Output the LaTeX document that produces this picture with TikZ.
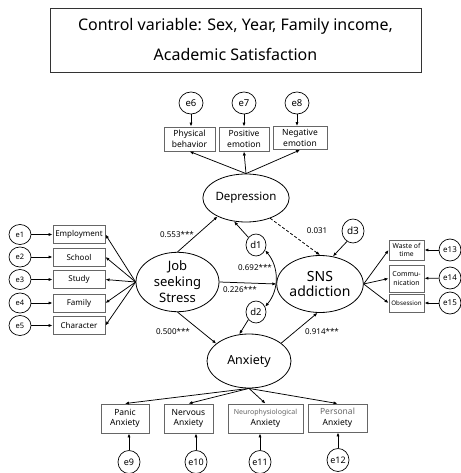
\documentclass[tikz,border=0pt]{standalone}
\usepackage{fontspec}
\setmainfont{Noto Sans}
\usetikzlibrary{shapes.geometric,arrows.meta,calc}
\begin{document}
\begin{tikzpicture}[x=1pt,y=-1pt,
  arr/.style={-{Latex[length=4pt,width=3.2pt]}, line width=0.75pt},
  box/.style={draw=black!60, line width=0.9pt, inner sep=0pt, align=center, font=\fontsize{8.5}{10.5}\selectfont},
  lat/.style={ellipse, draw, line width=0.8pt, inner sep=0pt, align=center},
  err/.style={ellipse, draw, line width=0.7pt, inner sep=0pt},
  coef/.style={inner sep=0pt, font=\fontsize{8}{9}\selectfont}
]
\useasboundingbox (0,0) rectangle (460,473);
% title
\node[draw=black!80, line width=0.9pt, minimum width=371, minimum height=64, inner sep=0pt, align=center,
  font=\fontsize{16}{30}\selectfont] (title) at (235.5,40) {Control variable: Sex, Year, Family income,\\Academic Satisfaction};
% latent variables
\node[lat, minimum width=84, minimum height=48, font=\fontsize{11.5}{13}\selectfont] (dep) at (246,198) {Depression};
\node[lat, minimum width=83, minimum height=55, font=\fontsize{13}{16}\selectfont] (jss) at (177.5,282) {Job\\seeking\\Stress};
\node[lat, minimum width=84, minimum height=57, font=\fontsize{14}{15.5}\selectfont] (sns) at (320,284) {SNS\\addiction};
\node[lat, minimum width=84, minimum height=54, font=\fontsize{12.5}{15}\selectfont] (anx) at (249,361) {Anxiety};
% disturbances
\node[err, minimum width=20, minimum height=22, font=\fontsize{9.5}{11}\selectfont] (d1) at (256,245) {d1};
\node[err, minimum width=20, minimum height=22, font=\fontsize{9.5}{11}\selectfont] (d2) at (256,312) {d2};
\node[err, minimum width=22, minimum height=24, font=\fontsize{10}{12}\selectfont] (d3) at (353,231) {d3};
% depression indicators
\node[box, minimum width=51, minimum height=24] (phys) at (189.5,139) {Physical\\behavior};
\node[box, minimum width=50, minimum height=24] (pos) at (244,139) {Positive\\emotion};
\node[box, minimum width=54, minimum height=23] (neg) at (300,138) {Negative\\emotion};
\node[err, minimum width=24, minimum height=22, font=\fontsize{9.5}{11}\selectfont] (e6) at (191,103) {e6};
\node[err, minimum width=24, minimum height=22, font=\fontsize{9.5}{11}\selectfont] (e7) at (244,103) {e7};
\node[err, minimum width=24, minimum height=22, font=\fontsize{9.5}{11}\selectfont] (e8) at (297,103) {e8};
% stress indicators
\foreach \n/\t/\yy in {emp/Employment/234.5, sch/School/257, stu/Study/279.5, fam/Family/303, cha/Character/325.5}{
  \node[box, minimum width=52, minimum height=18, font=\fontsize{8}{9}\selectfont] (\n) at (79,\yy) {\t};
}
\foreach \n/\yy in {1/234.5, 2/257, 3/279.5, 4/303, 5/325.5}{
  \node[err, minimum width=22, minimum height=20, font=\fontsize{7.5}{9}\selectfont] (e\n) at (20,\yy) {e\n};
}
% sns indicators
\node[box, minimum width=35, minimum height=20, font=\fontsize{6.8}{8.5}\selectfont] (waste) at (406.5,250) {Waste of\\time};
\node[box, minimum width=35, minimum height=27, font=\fontsize{7}{9}\selectfont] (comm) at (406.5,278.5) {Commu-\\nication};
\node[box, minimum width=35, minimum height=18, font=\fontsize{6.2}{8}\selectfont] (obs) at (406.5,303) {Obsession};
\node[err, minimum width=22, minimum height=22, font=\fontsize{8}{10}\selectfont] (e13) at (450,250) {e13};
\node[err, minimum width=22, minimum height=22, font=\fontsize{8}{10}\selectfont] (e14) at (450,278) {e14};
\node[err, minimum width=22, minimum height=22, font=\fontsize{8}{10}\selectfont] (e15) at (450,303) {e15};
% anxiety indicators
\node[box, minimum width=48, minimum height=29] (pan) at (125,418.5) {Panic\\Anxiety};
\node[box, minimum width=49, minimum height=29] (ner) at (188.5,418.5) {Nervous\\Anxiety};
\node[box, minimum width=75, minimum height=29] (neu) at (265.5,418.5) {{\fontsize{7}{10.5}\selectfont\color{black!60}Neurophysiological}\\Anxiety};
\node[box, minimum width=59, minimum height=28] (per) at (337.5,418) {{\color{black!60}Personal}\\Anxiety};
\node[err, minimum width=22, minimum height=23, font=\fontsize{9}{11}\selectfont] (e9) at (129,462) {e9};
\node[err, minimum width=22, minimum height=23, font=\fontsize{9}{11}\selectfont] (e10) at (196,462) {e10};
\node[err, minimum width=22, minimum height=23, font=\fontsize{9}{11}\selectfont] (e11) at (260,462) {e11};
\node[err, minimum width=22, minimum height=23, font=\fontsize{9}{11}\selectfont] (e12) at (338,460) {e12};
% coefficients
\node[coef] (c1) at (177,235) {0.553***};
\node[coef] (c2) at (255,268) {0.692***};
\node[coef] (c3) at (240,290) {0.226***};
\node[coef] (c4) at (173,332) {0.500***};
\node[coef] (c5) at (322,332) {0.914***};
\node[coef] (c6) at (317,231) {0.031};
% measurement arrows
\foreach \b in {phys,pos,neg}{ \draw[arr] (dep.north) -- (\b.south); }
\foreach \e/\b in {e6/phys,e7/pos,e8/neg}{ \draw[arr] (\e) -- (\e |- \b.north); }
\foreach \b in {emp,sch,stu,fam,cha}{ \draw[arr] (jss.west) -- (\b.east); }
\foreach \e/\b in {e1/emp,e2/sch,e3/stu,e4/fam,e5/cha}{ \draw[arr] (\e) -- (\b); }
\foreach \b in {waste,comm,obs}{ \draw[arr] (sns.east) -- (\b.west); }
\foreach \e/\b in {e13/waste,e14/comm,e15/obs}{ \draw[arr] (\e) -- (\b); }
\foreach \b in {pan,ner,neu,per}{ \draw[arr] (anx.south) -- (\b.north); }
\foreach \e/\b in {e9/pan,e10/ner,e11/neu,e12/per}{ \draw[arr] (\e) -- (\e |- \b.south); }
% structural arrows
\draw[arr] (jss.north) -- (dep.213);
\draw[arr] (d1.135) -- (dep.243);
\draw[arr, dashed, dash pattern=on 3pt off 2pt] (dep.-40) -- (sns.north);
\draw[arr] (d3.240) -- (sns.65);
\draw[arr] (jss.east) -- (sns.west);
\draw[arr] (jss.south) -- (anx.152);
\draw[arr] (d2.225) -- (anx.110);
\draw[arr] (anx.29) -- (sns.265);
\draw[{Latex[length=4pt,width=3.2pt]}-{Latex[length=4pt,width=3.2pt]}, line width=0.75pt] (d1.-30) to[out=-50,in=50] (d2.30);
\end{tikzpicture}
\end{document}
